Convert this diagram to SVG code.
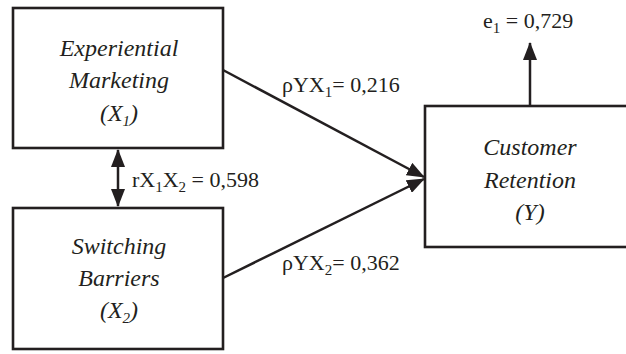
<svg xmlns="http://www.w3.org/2000/svg" width="626" height="354" viewBox="0 0 626 354">
  <style>
    .box { fill: #ffffff; stroke: #231f20; stroke-width: 2.6; }
    .name { font-family: "Liberation Serif", "Times New Roman", serif; font-style: italic; font-size: 24px; fill: #231f20; text-anchor: middle; }
    .lbl { font-family: "Liberation Serif", "Times New Roman", serif; font-size: 22px; fill: #231f20; }
    .sub { font-size: 15px; }
    .edge { fill: none; stroke: #231f20; stroke-width: 2.5; }
  </style>
  <defs>
    <marker id="head" markerUnits="userSpaceOnUse" markerWidth="18" markerHeight="14" viewBox="0 0 18 14" refX="17" refY="7" orient="auto-start-reverse">
      <path d="M0,0 L18,7 L0,14 z" fill="#231f20"/>
    </marker>
  </defs>

  <rect width="626" height="354" fill="#ffffff"/>

  <g id="x1">
    <rect class="box" x="13" y="8" width="210" height="140"/>
    <text class="name" x="119" y="56">Experiential</text>
    <text class="name" x="119" y="88">Marketing</text>
    <text class="name" x="119" y="121">(X<tspan class="sub" dy="5">1</tspan><tspan dy="-5">)</tspan></text>
  </g>

  <g id="x2">
    <rect class="box" x="13" y="208" width="210" height="141"/>
    <text class="name" x="119" y="254">Switching</text>
    <text class="name" x="119" y="286">Barriers</text>
    <text class="name" x="119" y="318">(X<tspan class="sub" dy="5">2</tspan><tspan dy="-5">)</tspan></text>
  </g>

  <g id="y">
    <rect class="box" x="425" y="106" width="210" height="141"/>
    <text class="name" x="530" y="155">Customer</text>
    <text class="name" x="530" y="188">Retention</text>
    <text class="name" x="530" y="220">(Y)</text>
  </g>

  <g id="connectors">
    <line class="edge" x1="118" y1="150" x2="118" y2="206" marker-start="url(#head)" marker-end="url(#head)"/>
    <line class="edge" x1="223" y1="70" x2="424" y2="177" marker-end="url(#head)"/>
    <line class="edge" x1="223" y1="278" x2="424" y2="179" marker-end="url(#head)"/>
    <line class="edge" x1="530" y1="106" x2="530" y2="43" marker-end="url(#head)"/>
  </g>

  <g id="labels">
    <text class="lbl" x="132" y="187">rX<tspan class="sub" dy="5">1</tspan><tspan dy="-5">X</tspan><tspan class="sub" dy="5">2</tspan><tspan dy="-5"> = 0,598</tspan></text>
    <text class="lbl" x="282" y="92">ρYX<tspan class="sub" dy="5">1</tspan><tspan dy="-5">= 0,216</tspan></text>
    <text class="lbl" x="282" y="270">ρYX<tspan class="sub" dy="5">2</tspan><tspan dy="-5">= 0,362</tspan></text>
    <text class="lbl" x="483" y="28">e<tspan class="sub" dy="5">1</tspan><tspan dy="-5"> = 0,729</tspan></text>
  </g>
</svg>
